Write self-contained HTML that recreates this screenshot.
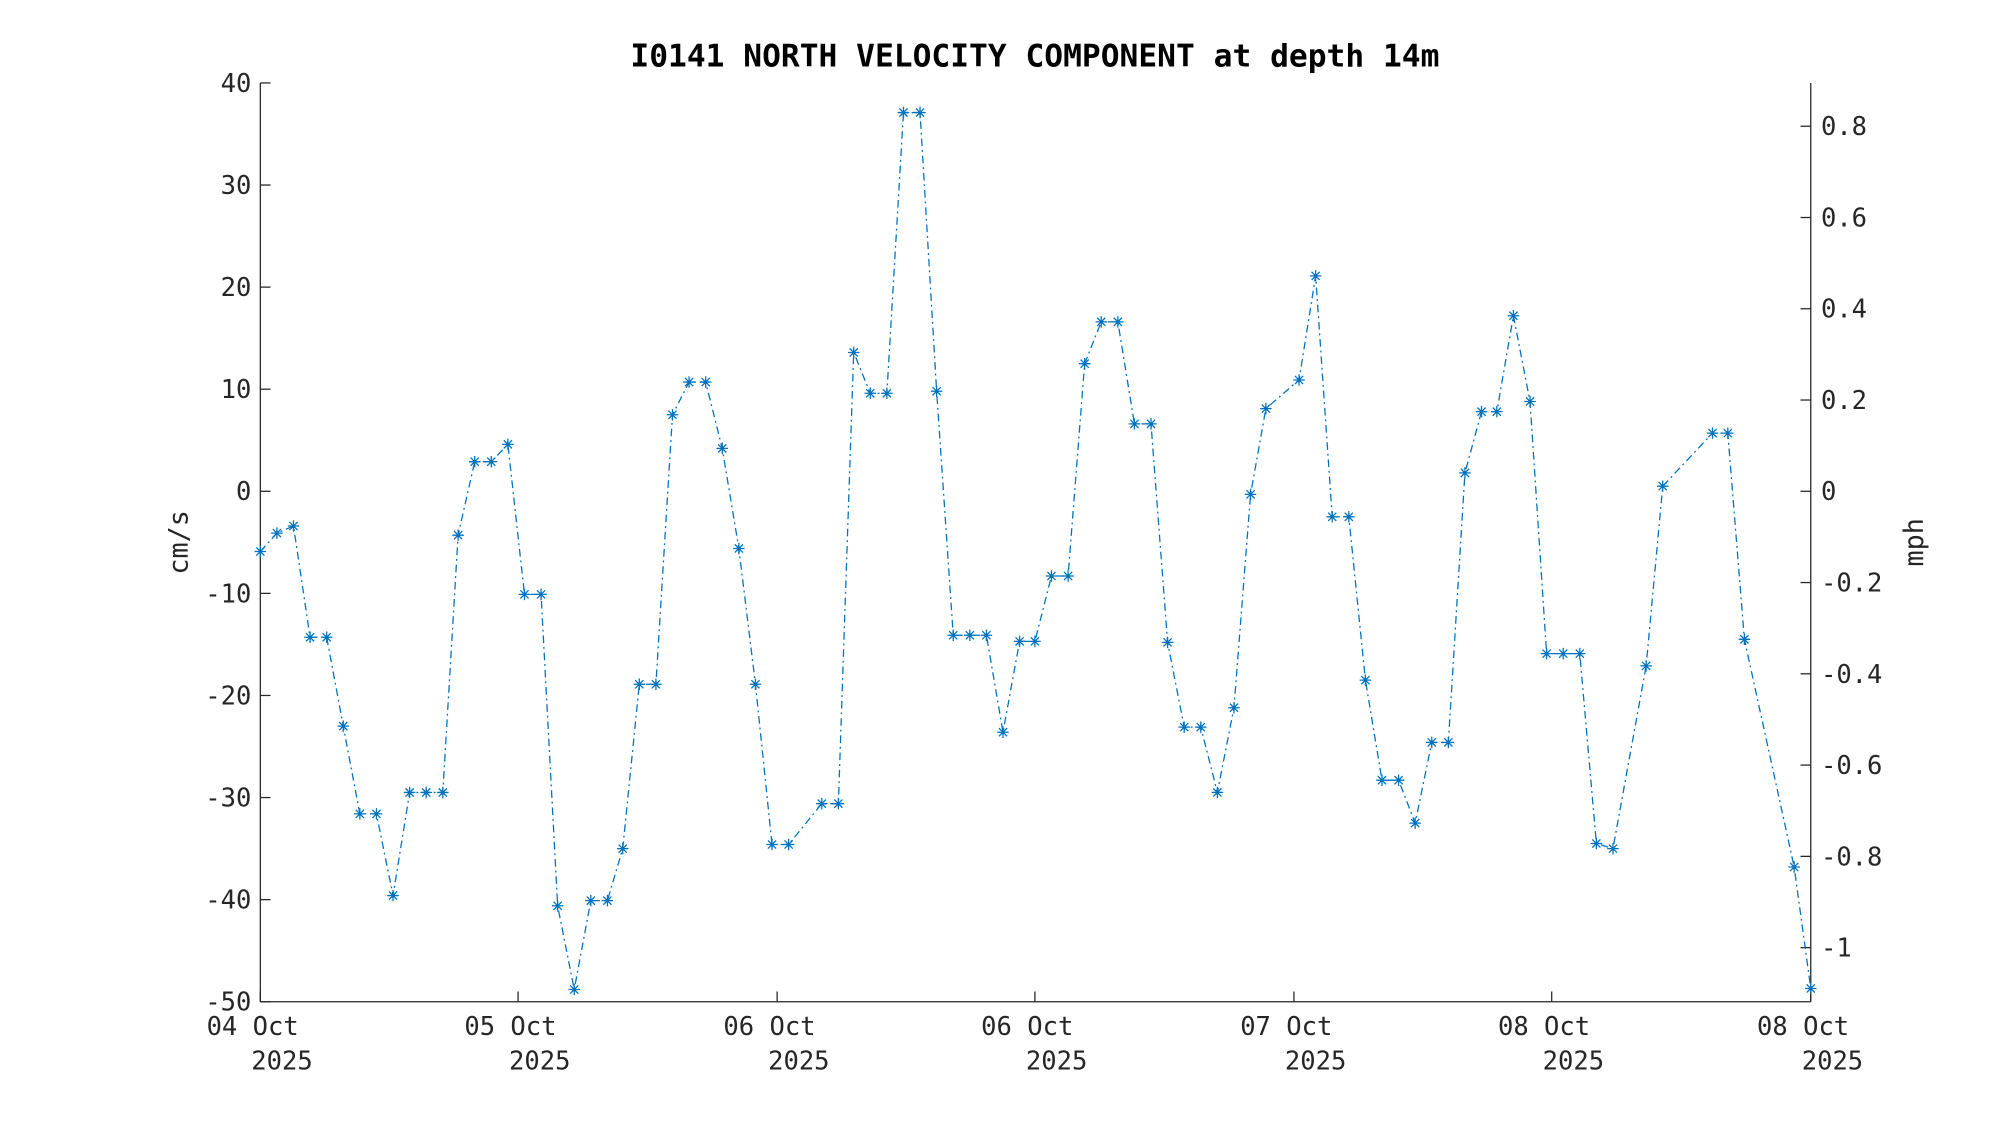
<!DOCTYPE html>
<html><head><meta charset="utf-8"><style>html,body{margin:0;padding:0;background:#fff}svg{display:block}</style></head>
<body>
<svg id="s" width="2000" height="1125" viewBox="0 0 1567.3 881.6" xmlns="http://www.w3.org/2000/svg" font-family="'DejaVu Sans Mono','Liberation Mono',monospace">
<rect width="1567.3" height="881.6" fill="#fff"/>
<text x="811" y="52" text-anchor="middle" font-size="24.5" font-weight="bold">I0141 NORTH VELOCITY COMPONENT at depth 14m</text>
<g id="ax" stroke="#262626" stroke-width="1" fill="none"></g>
<g id="lbl" font-size="20" fill="#262626"></g>
<text transform="translate(147,425) rotate(-90)" text-anchor="middle" font-size="21" fill="#262626">cm/s</text>
<text transform="translate(1507,425) rotate(-90)" text-anchor="middle" font-size="21" fill="#262626">mph</text>
<g id="data"></g>
</svg>
<script>
var NS="http://www.w3.org/2000/svg";
function el(p,t,a,txt){var e=document.createElementNS(NS,t);for(var k in a)e.setAttribute(k,a[k]);if(txt!=null)e.textContent=txt;p.appendChild(e);return e;}
var L=204,R=1419,T=65,B=785;
function Y(v){return 385-v*8;}
var ax=document.getElementById('ax'),lb=document.getElementById('lbl');
el(ax,'line',{x1:L,y1:T,x2:L,y2:B});
el(ax,'line',{x1:L,y1:B,x2:R,y2:B});
el(ax,'line',{x1:R,y1:T,x2:R,y2:B});
for(var v=-50;v<=40;v+=10){var y=Y(v);el(ax,'line',{x1:L,y1:y,x2:L+8,y2:y});el(lb,'text',{x:L-7,y:y+7,'text-anchor':'end'},String(v));}
var mv=[0.8,0.6,0.4,0.2,0,-0.2,-0.4,-0.6,-0.8,-1];
mv.forEach(function(m){var y=385-m*357.6;el(ax,'line',{x1:R,y1:y,x2:R-8,y2:y});el(lb,'text',{x:R+8,y:y+7},(m===0?'0':(m===-1?'-1':String(m))));});
var xs=[[204,'04 Oct'],[406,'05 Oct'],[609,'06 Oct'],[811,'06 Oct'],[1014,'07 Oct'],[1216,'08 Oct'],[1419,'08 Oct']];
xs.forEach(function(a){el(ax,'line',{x1:a[0],y1:B,x2:a[0],y2:B-8});el(lb,'text',{x:a[0]-6,y:811,'text-anchor':'middle'},a[1]);el(lb,'text',{x:a[0]+17,y:838,'text-anchor':'middle'},'2025');});
var d=[[204,-5.9],[217,-4.1],[230,-3.4],[243,-14.3],[256,-14.3],[269,-23],[282,-31.6],[295,-31.6],[308,-39.6],[321,-29.5],[334,-29.5],[347,-29.5],[359,-4.3],[372,2.9],[385,2.9],[398,4.6],[411,-10.1],[424,-10.1],[437,-40.6],[450,-48.8],[463,-40.1],[476,-40.1],[488,-35],[501,-18.9],[514,-18.9],[527,7.5],[540,10.7],[553,10.7],[566,4.2],[579,-5.6],[592,-18.9],[605,-34.6],[618,-34.6],[644,-30.6],[657,-30.6],[669,13.6],[682,9.6],[695,9.6],[708,37.1],[721,37.1],[734,9.8],[747,-14.1],[760,-14.1],[773,-14.1],[786,-23.6],[799,-14.7],[811,-14.7],[824,-8.3],[837,-8.3],[850,12.5],[863,16.6],[876,16.6],[889,6.6],[902,6.6],[915,-14.8],[928,-23.1],[941,-23.1],[954,-29.5],[967,-21.2],[980,-0.3],[992,8.1],[1018,10.9],[1031,21.1],[1044,-2.5],[1057,-2.5],[1070,-18.5],[1083,-28.3],[1096,-28.3],[1109,-32.5],[1122,-24.6],[1135,-24.6],[1148,1.8],[1161,7.8],[1173,7.8],[1186,17.2],[1199,8.8],[1212,-15.9],[1225,-15.9],[1238,-15.9],[1251,-34.5],[1264,-35],[1290,-17.1],[1303,0.5],[1342,5.7],[1354,5.7],[1367,-14.5],[1406,-36.8],[1419,-48.7]];
var g=document.getElementById('data');
el(g,'polyline',{points:d.map(function(p){return p[0]+','+Y(p[1]);}).join(' '),fill:'none',stroke:'#0072BD','stroke-width':1,'stroke-dasharray':'6,3,1.5,3'});
var s=4.5,sd=3.2,path='';
d.forEach(function(p){var x=p[0],y=Y(p[1]);path+='M'+(x-s)+' '+y+'h'+(2*s)+'M'+x+' '+(y-s)+'v'+(2*s)+'M'+(x-sd)+' '+(y-sd)+'l'+(2*sd)+' '+(2*sd)+'M'+(x-sd)+' '+(y+sd)+'l'+(2*sd)+' '+(-2*sd);});
el(g,'path',{d:path,stroke:'#0072BD','stroke-width':1,fill:'none'});
</script>
</body></html>
